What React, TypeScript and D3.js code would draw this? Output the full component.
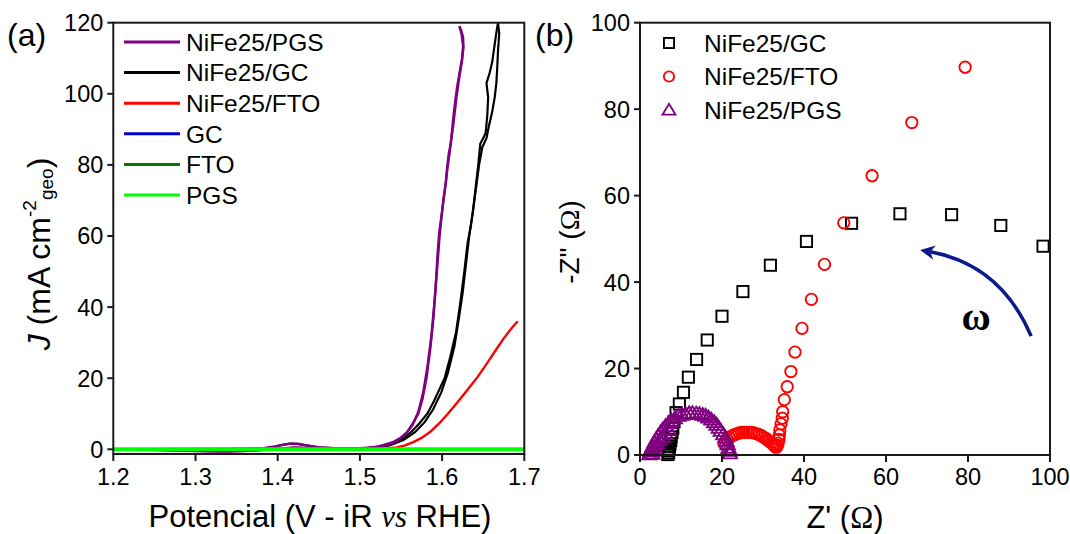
import React from "react";
import * as d3 from "d3";

// ---------- Panel (a): CV curves, [potential V, J mA cm-2] ----------
const pgsForward: [number, number][] = [
  [1.2, 0], [1.25, 0.0], [1.3, 0.1], [1.35, 0.1], [1.38, 0.2], [1.395, 0.7], [1.405, 1.2], [1.415, 1.6],
  [1.425, 1.5], [1.435, 1.1], [1.45, 0.6], [1.47, 0.3], [1.49, 0.2], [1.51, 0.4], [1.52, 0.7],
  [1.53, 1.3], [1.54, 2.0], [1.55, 3.3], [1.558, 5.0], [1.565, 7.5], [1.571, 10], [1.576, 14],
  [1.581, 20], [1.586, 29], [1.5895, 37], [1.592, 45], [1.5945, 55], [1.5965, 61], [1.600, 67],
  [1.602, 71], [1.6045, 75], [1.606, 79], [1.608, 83], [1.6105, 86], [1.6115, 88], [1.6135, 93],
  [1.6165, 99], [1.619, 103], [1.622, 107], [1.6245, 110], [1.626, 113], [1.6255, 116], [1.623, 118], [1.621, 119]
];
const pgsBackward: [number, number][] = [
  [1.621, 119], [1.6235, 117], [1.6255, 113.5], [1.624, 109], [1.6205, 104], [1.6175, 99], [1.6135, 91],
  [1.611, 87], [1.6095, 84], [1.6065, 79], [1.604, 74], [1.6005, 68], [1.597, 60], [1.594, 51],
  [1.5905, 41], [1.587, 32], [1.582, 23], [1.577, 16], [1.571, 10.5], [1.564, 6.8], [1.556, 4.4],
  [1.546, 2.5], [1.533, 1.2], [1.52, 0.6], [1.50, 0.3], [1.48, 0.1], [1.46, 0.2], [1.44, 0.4],
  [1.42, 0.5], [1.40, 0.2], [1.38, -0.2], [1.36, -0.5], [1.34, -0.6], [1.32, -0.6], [1.29, -0.4],
  [1.25, -0.2], [1.2, -0.1]
];
const gcForward: [number, number][] = [
  [1.2, 0], [1.3, 0.0], [1.38, 0.2], [1.395, 0.7], [1.405, 1.2], [1.415, 1.6], [1.425, 1.5],
  [1.435, 1.1], [1.45, 0.5], [1.48, 0.2], [1.50, 0.2], [1.52, 0.5], [1.53, 0.9], [1.544, 2],
  [1.555, 3.5], [1.563, 5], [1.572, 7.2], [1.582, 10], [1.59, 13.5], [1.597, 17], [1.603, 20],
  [1.61, 26], [1.617, 33], [1.622, 41], [1.627, 50], [1.631, 58], [1.635, 63], [1.638, 68],
  [1.641, 74], [1.644, 80], [1.6465, 86], [1.650, 87.5], [1.653, 89], [1.655, 94], [1.656, 99],
  [1.654, 103], [1.658, 106], [1.661, 109], [1.664, 114], [1.6665, 118], [1.668, 120]
];
const gcBackward: [number, number][] = [
  [1.668, 120], [1.6695, 117], [1.668, 112], [1.667, 107], [1.666, 103], [1.664, 99], [1.661, 95],
  [1.657, 91], [1.654, 87.5], [1.649, 85], [1.645, 80], [1.641, 73], [1.637, 66], [1.633, 60],
  [1.629, 52], [1.625, 44], [1.6205, 37], [1.615, 29], [1.607, 21.5], [1.599, 16], [1.589, 11.2],
  [1.579, 7.7], [1.567, 4.8], [1.553, 2.6], [1.536, 1.1], [1.51, 0.3], [1.48, 0.1], [1.45, 0.3],
  [1.42, 0.4], [1.40, 0.1], [1.37, -0.3], [1.34, -0.5], [1.30, -0.4], [1.25, -0.2], [1.2, -0.1]
];
const ftoCurve: [number, number][] = [
  [1.2, 0], [1.4, 0], [1.5, 0.05], [1.53, 0.2], [1.545, 0.5], [1.555, 1.1], [1.565, 2],
  [1.575, 3.2], [1.586, 5], [1.597, 7.4], [1.607, 10], [1.618, 13], [1.63, 16.5], [1.643, 20.3],
  [1.655, 24.3], [1.665, 27.8], [1.675, 31.2], [1.685, 34.2], [1.692, 36]
];
const gcBlank: [number, number][] = [[1.2, 0], [1.7, 0]];
const ftoBlank: [number, number][] = [[1.2, 0], [1.7, 0]];
const pgsBlank: [number, number][] = [[1.2, 0], [1.7, 0]];

const xTicksA = [1.2, 1.3, 1.4, 1.5, 1.6, 1.7];
const yTicksA = [0, 20, 40, 60, 80, 100, 120];

const legendA = [
  { name: "NiFe25/PGS", color: "#800080" },
  { name: "NiFe25/GC", color: "#000000" },
  { name: "NiFe25/FTO", color: "#ff0000" },
  { name: "GC", color: "#0000cc" },
  { name: "FTO", color: "#007a00" },
  { name: "PGS", color: "#00ff00" },
];

// ---------- Panel (b): Nyquist, [Z' ohm, -Z'' ohm] ----------
const nyqGC: [number, number][] = [
  [6.8, 0.1], [7.0, 0.5], [6.9, 1.0], [7.1, 1.4], [7.2, 2.0], [7.3, 2.5], [7.5, 3.3], [7.6, 4.2],
  [7.8, 5.2], [8.0, 6.2], [8.3, 7.7], [8.8, 9.8], [9.6, 11.8], [10.6, 14.5], [11.8, 18.0],
  [13.8, 22.1], [16.4, 26.6], [20.0, 32.1], [25.1, 37.8], [31.8, 43.9], [40.6, 49.4],
  [51.6, 53.6], [63.4, 55.8], [76.0, 55.6], [88.0, 53.1], [98.3, 48.3]
];
const nyqFTO: [number, number][] = [
  [20.5, 2.6], [21.2, 3.6], [21.8, 4.0], [22.4, 4.4], [23.0, 4.7], [23.6, 4.9], [24.2, 5.1],
  [24.8, 5.2], [25.4, 5.25], [26.0, 5.25], [26.6, 5.25], [27.2, 5.2], [27.8, 5.1], [28.5, 4.9],
  [29.1, 4.7], [29.7, 4.4], [30.2, 4.1], [30.7, 3.8], [31.1, 3.5], [31.5, 3.2], [32.0, 2.8],
  [32.4, 2.5], [32.7, 2.2], [33.0, 1.9], [33.3, 1.8], [33.5, 2.2], [33.7, 2.7], [33.9, 3.6],
  [34.0, 4.6], [34.1, 5.8], [34.4, 7.2], [34.7, 8.5], [34.8, 10.0], [35.2, 12.8], [35.9, 15.8],
  [36.8, 19.3], [37.8, 23.8], [39.5, 29.3], [41.8, 36.0], [45.0, 44.1], [49.7, 53.7],
  [56.6, 64.6], [66.3, 76.9], [79.3, 89.7]
];
const nyqPGS: [number, number][] = [
  [2.3, 0.2], [2.5, 0.8], [2.8, 1.5], [3.1, 2.1], [3.5, 2.9], [3.9, 3.6], [4.4, 4.4], [5.0, 5.2],
  [5.6, 6.0], [6.3, 6.8], [7.0, 7.4], [7.7, 7.9], [8.5, 8.5], [9.4, 9.1], [10.2, 9.3], [11.1, 9.5],
  [12.0, 9.7], [12.8, 9.7], [13.7, 9.6], [14.5, 9.5], [15.3, 9.3], [16.0, 9.1], [16.7, 8.7],
  [17.4, 8.2], [18.1, 7.6], [18.7, 7.0], [19.2, 6.3], [19.7, 5.6], [20.3, 4.8], [20.8, 4.1],
  [21.1, 3.3], [21.4, 2.5], [21.6, 1.7], [21.8, 1.0], [21.9, 0.4],
  [3.0, 0.3], [3.3, 1.0], [3.7, 1.8], [4.2, 2.6], [4.8, 3.4], [5.5, 4.2], [6.2, 5.0], [7.0, 5.8]
];
const xTicksB = [0, 20, 40, 60, 80, 100];
const yTicksB = [0, 20, 40, 60, 80, 100];
const legendB = [
  { name: "NiFe25/GC", color: "#000000", shape: "square" },
  { name: "NiFe25/FTO", color: "#ff0000", shape: "circle" },
  { name: "NiFe25/PGS", color: "#800080", shape: "triangle" },
];
// arrow annotation in data coords (tail, control, head) and omega position
const arrowPts: [number, number][] = [[95.4, 27.5], [88.0, 44.0], [70.8, 47.0]];
const omegaPos: [number, number] = [82, 29];

const FONT = "'Liberation Sans', Arial, Helvetica, sans-serif";
const SERIF = "'Liberation Serif', 'Times New Roman', serif";
const AX = "#1a1a1a";

function Marker({ shape, x, y, color, s = 1 }: { shape: string; x: number; y: number; color: string; s?: number }) {
  if (shape === "square") {
    const h = 5.6 * s;
    return <rect x={x - h} y={y - h} width={2 * h} height={2 * h} fill="none" stroke={color} strokeWidth={1.9} />;
  }
  if (shape === "circle") {
    return <circle cx={x} cy={y} r={5.7 * s} fill="none" stroke={color} strokeWidth={1.9} />;
  }
  const a = 6.8 * s;
  const pts = `${x},${y - a} ${x - a * 1.05},${y + a * 0.75} ${x + a * 1.05},${y + a * 0.75}`;
  return <polygon points={pts} fill="none" stroke={color} strokeWidth={1.9} strokeLinejoin="miter" />;
}

export default function App() {
  // Panel a scales
  const xA = d3.scaleLinear().domain([1.2, 1.7]).range([113.3, 524.3]);
  const yA = d3.scaleLinear().domain([0, 120]).range([449.3, 22.7]);
  const aBottom = 454;
  const lineA = d3.line<[number, number]>().x((d) => xA(d[0])).y((d) => yA(d[1])).curve(d3.curveLinear);

  // Panel b scales
  const xB = d3.scaleLinear().domain([0, 100]).range([640, 1050]);
  const yB = d3.scaleLinear().domain([0, 100]).range([455, 22.7]);

  const arrowPath =
    `M${xB(arrowPts[0][0])},${yB(arrowPts[0][1])} Q${xB(arrowPts[1][0])},${yB(arrowPts[1][1])} ${xB(arrowPts[2][0])},${yB(arrowPts[2][1])}`;

  return (
    <svg width={1070} height={534} style={{ position: "absolute", left: 0, top: 0, background: "#fff" }}
      fontFamily={FONT}>
      <defs>
        <clipPath id="clipA">
          <rect x={xA(1.2)} y={yA(120)} width={xA(1.7) - xA(1.2)} height={aBottom - yA(120)} />
        </clipPath>
        <marker id="arrowHead" viewBox="0 0 10 10" refX="3" refY="5" markerWidth="4.2" markerHeight="4.2"
          orient="auto-start-reverse" markerUnits="strokeWidth">
          <path d="M0,0 L10,5 L0,10 L3,5 Z" fill="#0a1a8c" />
        </marker>
      </defs>
      <rect x={0} y={0} width={1070} height={534} fill="#fff" />

      {/* ---------- Panel (a) ---------- */}
      <text x={7} y={46} fontSize={32}>(a)</text>
      <g clipPath="url(#clipA)">
        <path d={lineA(gcBlank) || ""} fill="none" stroke="#0000cc" strokeWidth={2} />
        <path d={lineA(ftoBlank) || ""} fill="none" stroke="#007a00" strokeWidth={2} />
        <path d={lineA(ftoCurve) || ""} fill="none" stroke="#ff0000" strokeWidth={2.4} />
        <path d={lineA(gcForward) || ""} fill="none" stroke="#000" strokeWidth={2.2} />
        <path d={lineA(gcBackward) || ""} fill="none" stroke="#000" strokeWidth={2.2} />
        <path d={lineA(pgsForward) || ""} fill="none" stroke="#800080" strokeWidth={2.4} />
        <path d={lineA(pgsBackward) || ""} fill="none" stroke="#800080" strokeWidth={2.4} />
        <path d={lineA(pgsBlank) || ""} fill="none" stroke="#00ff00" strokeWidth={4} />
      </g>
      <rect x={xA(1.2)} y={yA(120)} width={xA(1.7) - xA(1.2)} height={aBottom - yA(120)}
        fill="none" stroke={AX} strokeWidth={2} />
      {xTicksA.map((t) => (
        <g key={"xa" + t}>
          <line x1={xA(t)} x2={xA(t)} y1={aBottom} y2={aBottom + 7} stroke={AX} strokeWidth={2} />
          <text x={xA(t)} y={485} fontSize={23.5} textAnchor="middle">{t.toFixed(1)}</text>
        </g>
      ))}
      {yTicksA.map((t) => (
        <g key={"ya" + t}>
          <line x1={xA(1.2) - 6} x2={xA(1.2)} y1={yA(t)} y2={yA(t)} stroke={AX} strokeWidth={2} />
          <text x={xA(1.2) - 10} y={yA(t)} dy="0.36em" fontSize={23.5} textAnchor="end">{t}</text>
        </g>
      ))}
      <text x={320} y={527} fontSize={31} textAnchor="middle">
        Potencial (V - iR <tspan fontFamily={SERIF} fontStyle="italic">vs</tspan> RHE)
      </text>
      <text transform="translate(50,254) rotate(-90)" fontSize={32} textAnchor="middle">
        <tspan fontStyle="italic">J</tspan> (mA cm<tspan fontSize={19} dy={-14}>-2</tspan>
        <tspan fontSize={19} dy={17}>geo</tspan><tspan dy={-3}>)</tspan>
      </text>
      {legendA.map((l, i) => {
        const y = 42 + i * 30.6;
        return (
          <g key={l.name}>
            <line x1={124} x2={180} y1={y} y2={y} stroke={l.color} strokeWidth={3} />
            <text x={186} y={y} dy="0.36em" fontSize={24.5}>{l.name}</text>
          </g>
        );
      })}

      {/* ---------- Panel (b) ---------- */}
      <text x={535} y={46} fontSize={32}>(b)</text>
      {nyqGC.map((d, i) => <Marker key={"g" + i} shape="square" x={xB(d[0])} y={yB(d[1])} color="#000" />)}
      {nyqFTO.map((d, i) => <Marker key={"f" + i} shape="circle" x={xB(d[0])} y={yB(d[1])} color="#ff0000" />)}
      {nyqPGS.map((d, i) => <Marker key={"p" + i} shape="triangle" x={xB(d[0])} y={yB(d[1])} color="#800080" />)}
      <rect x={xB(0)} y={yB(100)} width={xB(100) - xB(0)} height={yB(0) - yB(100)}
        fill="none" stroke={AX} strokeWidth={2} />
      {xTicksB.map((t) => (
        <g key={"xb" + t}>
          <line x1={xB(t)} x2={xB(t)} y1={yB(0)} y2={yB(0) + 7} stroke={AX} strokeWidth={2} />
          <text x={xB(t)} y={485} fontSize={23.5} textAnchor="middle">{t}</text>
        </g>
      ))}
      {yTicksB.map((t) => (
        <g key={"yb" + t}>
          <line x1={xB(0) - 6} x2={xB(0)} y1={yB(t)} y2={yB(t)} stroke={AX} strokeWidth={2} />
          <text x={xB(0) - 10} y={yB(t)} dy="0.36em" fontSize={23.5} textAnchor="end">{t}</text>
        </g>
      ))}
      <text x={845} y={528} fontSize={31} textAnchor="middle">
        Z' (<tspan fontFamily={SERIF}>Ω</tspan>)
      </text>
      <text transform="translate(579,242) rotate(-90)" fontSize={28} textAnchor="middle">
        -Z" (<tspan fontFamily={SERIF}>Ω</tspan>)
      </text>
      {legendB.map((l, i) => {
        const y = 43 + i * 33.5;
        return (
          <g key={l.name}>
            <Marker shape={l.shape} x={669} y={y} color={l.color} s={0.9} />
            <text x={704} y={y} dy="0.36em" fontSize={24.5}>{l.name}</text>
          </g>
        );
      })}
      <path d={arrowPath} fill="none" stroke="#0a1a8c" strokeWidth={3.5} markerEnd="url(#arrowHead)" />
      <text x={xB(omegaPos[0])} y={yB(omegaPos[1])} fontSize={40} fontFamily={SERIF} fontWeight="bold"
        textAnchor="middle">ω</text>
    </svg>
  );
}
